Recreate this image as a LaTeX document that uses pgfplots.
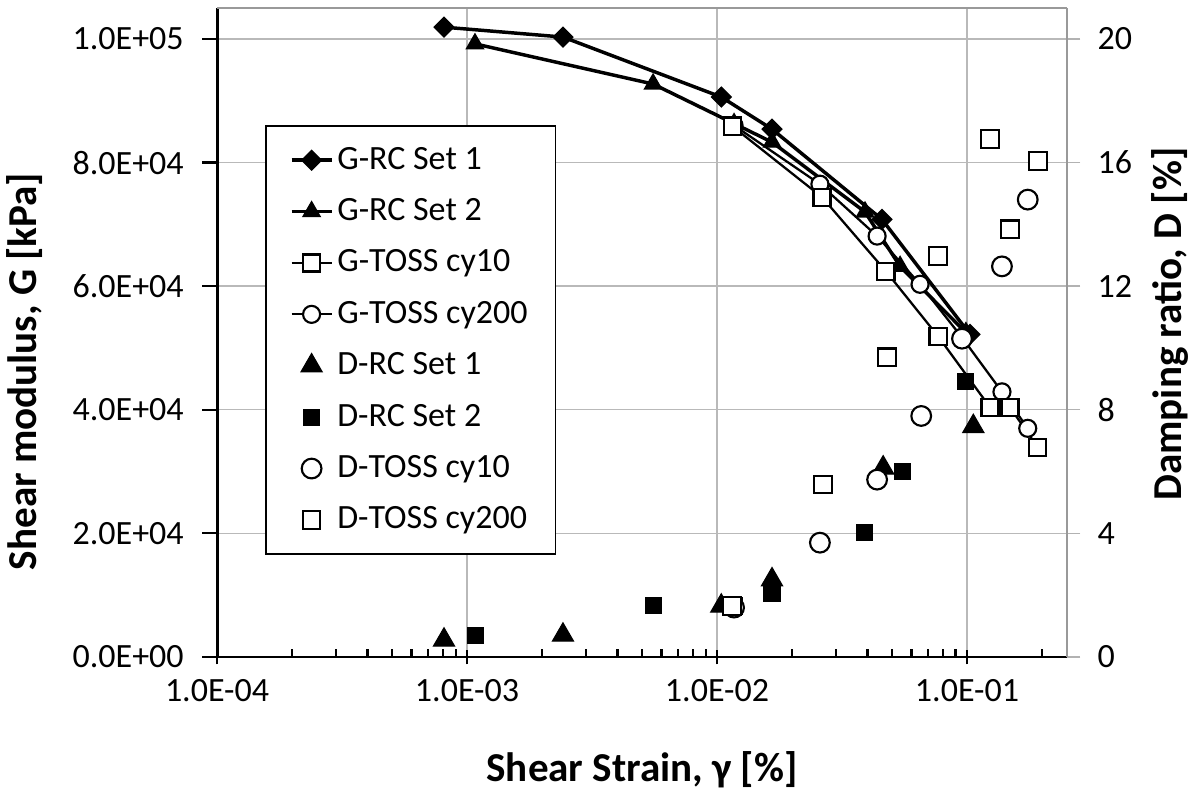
\documentclass[border=0pt]{standalone}
\usepackage{pgfplots}
\pgfplotsset{compat=1.18}
\usepackage{fontspec}
\setmainfont{Carlito}

\newcommand\tickfont{\fontsize{12.75}{15}\selectfont}
\newcommand\labfont{\fontsize{15.4}{18}\selectfont\bfseries}

\pgfplotsset{
  grc1/.style={black, line width=1.3pt, mark=square*, mark size=2.6pt,
    mark options={solid, rotate=45, fill=black, line width=0.5pt}},
  grc2/.style={black, line width=1.3pt, mark=triangle*, mark size=3.7pt,
    mark options={solid, fill=black, line width=0.5pt}},
  gt10/.style={black, line width=0.85pt, mark=square*, mark size=3.2pt,
    mark options={solid, fill=white, line width=0.8pt}},
  gt200/.style={black, line width=0.85pt, mark=*, mark size=3.2pt,
    mark options={solid, fill=white, line width=0.8pt}},
  drc1/.style={black, only marks, mark=triangle*, mark size=4.6pt,
    mark options={fill=black, line width=0.4pt}},
  drc2/.style={black, only marks, mark=square*, mark size=3pt,
    mark options={fill=black, line width=0.4pt}},
  dt10/.style={black, only marks, mark=*, mark size=3.7pt,
    mark options={fill=white, line width=0.8pt}},
  dt200/.style={black, only marks, mark=square*, mark size=3.3pt,
    mark options={fill=white, line width=0.8pt}},
}

\begin{document}
\begin{tikzpicture}
% primary axis: shear modulus
\begin{axis}[scale only axis, width=318.75pt, height=243.4pt,
  xmode=log, xmin=1e-4, xmax=0.2512,
  tick label style={font=\tickfont}, label style={font=\labfont},
  axis x line*=bottom, axis y line*=left,
  axis line style={black, line width=1.1pt, -},
  ymin=0, ymax=105000,
  xtick={1e-4,1e-3,1e-2,1e-1},
  xticklabels={1.0E-04,1.0E-03,1.0E-02,1.0E-01},
  minor xtick={2e-4,3e-4,4e-4,5e-4,6e-4,7e-4,8e-4,9e-4,
    2e-3,3e-3,4e-3,5e-3,6e-3,7e-3,8e-3,9e-3,
    2e-2,3e-2,4e-2,5e-2,6e-2,7e-2,8e-2,9e-2,2e-1},
  ytick={0,20000,40000,60000,80000,100000},
  yticklabels={0.0E+00,2.0E+04,4.0E+04,6.0E+04,8.0E+04,1.0E+05},
  scaled y ticks=false,
  xtick align=inside, ytick align=outside,
  major tick length=5.5pt, minor tick length=3pt,
  every major x tick/.append style={yshift=-2.75pt},
  tick style={black, line width=0.8pt},
  xmajorgrids, ymajorgrids,
  major grid style={gray!55, line width=0.5pt},
  xticklabel style={yshift=-5pt},
  yticklabel style={xshift=-3.5pt},
  xlabel={Shear Strain, γ [\%]},
  ylabel={Shear modulus, G [kPa]},
  xlabel style={at={(axis description cs:0.5,-0.174)}, anchor=center},
  ylabel style={at={(axis description cs:-0.226,0.44)}, anchor=center},
]
\addplot[grc1] coordinates {(8.09e-4,101900) (2.42e-3,100300) (1.04e-2,90600)
  (1.66e-2,85400) (4.57e-2,70800) (1.028e-1,52200)};
\addplot[grc2] coordinates {(1.076e-3,99200) (5.55e-3,92700) (1.17e-2,86300)
  (1.66e-2,83300) (3.91e-2,72000) (5.4e-2,63200) (9.9e-2,52500)};
\addplot[gt200] coordinates {(1.17e-2,86000) (2.58e-2,76500) (4.37e-2,68100)
  (6.49e-2,60300) (9.55e-2,51700) (1.38e-1,42900) (1.75e-1,37000)};
\addplot[gt10] coordinates {(1.15e-2,85900) (2.63e-2,74400) (4.74e-2,62400)
  (7.66e-2,51900) (1.236e-1,40400) (1.486e-1,40400) (1.92e-1,33900)};
\coordinate (bl) at (rel axis cs:0,0);
\coordinate (tr) at (rel axis cs:1,1);
\end{axis}
% secondary axis: damping ratio
\begin{axis}[scale only axis, width=318.75pt, height=243.4pt,
  xmode=log, xmin=1e-4, xmax=0.2512,
  tick label style={font=\tickfont}, label style={font=\labfont},
  axis y line*=right, axis x line*=top,
  axis line style={gray!80, line width=0.6pt, -},
  xtick=\empty,
  ymin=0, ymax=21,
  ytick={0,4,8,12,16,20},
  yticklabels={0,4,8,12,16,20},
  ytick align=outside, major tick length=5pt,
  tick style={gray!60, line width=0.5pt},
  yticklabel style={xshift=3pt},
  ylabel={Damping ratio, D [\%]},
  ylabel style={at={(axis description cs:1.121,0.513)}, anchor=center},
  legend cell align=left,
  legend style={at={(axis description cs:0.0565,0.8197)}, anchor=north west,
    draw=black, line width=0.6pt, fill=white, font=\tickfont,
    row sep=5.5pt, inner xsep=9pt, inner ysep=6pt,
    nodes={inner xsep=1.5pt}},
  legend image code/.code={\draw[mark repeat=2,mark phase=2,#1]
    plot coordinates {(0pt,0pt) (7.5pt,0pt) (15pt,0pt)};},
]
\addlegendimage{grc1}\addlegendentry{G-RC Set 1}
\addlegendimage{grc2}\addlegendentry{G-RC Set 2}
\addlegendimage{gt10}\addlegendentry{G-TOSS cy10}
\addlegendimage{gt200}\addlegendentry{G-TOSS cy200}
\addplot[drc1] coordinates {(8.09e-4,0.55) (2.42e-3,0.71) (1.04e-2,1.65)
  (1.66e-2,2.5) (4.62e-2,6.12) (1.06e-1,7.46)};
\addlegendentry{D-RC Set 1}
\addplot[drc2] coordinates {(1.08e-3,0.71) (5.55e-3,1.68) (1.17e-2,1.65)
  (1.66e-2,2.05) (3.9e-2,4.02) (5.5e-2,6.0) (9.9e-2,8.9)};
\addlegendentry{D-RC Set 2}
\addplot[dt10] coordinates {(1.17e-2,1.6) (2.58e-2,3.7) (4.37e-2,5.74)
  (6.56e-2,7.8) (9.55e-2,10.3) (1.38e-1,12.64) (1.75e-1,14.8)};
\addlegendentry{D-TOSS cy10}
\addplot[dt200] coordinates {(1.15e-2,1.65) (2.65e-2,5.58) (4.78e-2,9.7)
  (7.66e-2,12.97) (1.236e-1,16.76) (1.486e-1,13.84) (1.92e-1,16.05)};
\addlegendentry{D-TOSS cy200}
\end{axis}
\pgfresetboundingbox
\path ([shift={(-81.4pt,-51pt)}]bl) rectangle ([shift={(48pt,3pt)}]tr);
\end{tikzpicture}
\end{document}
